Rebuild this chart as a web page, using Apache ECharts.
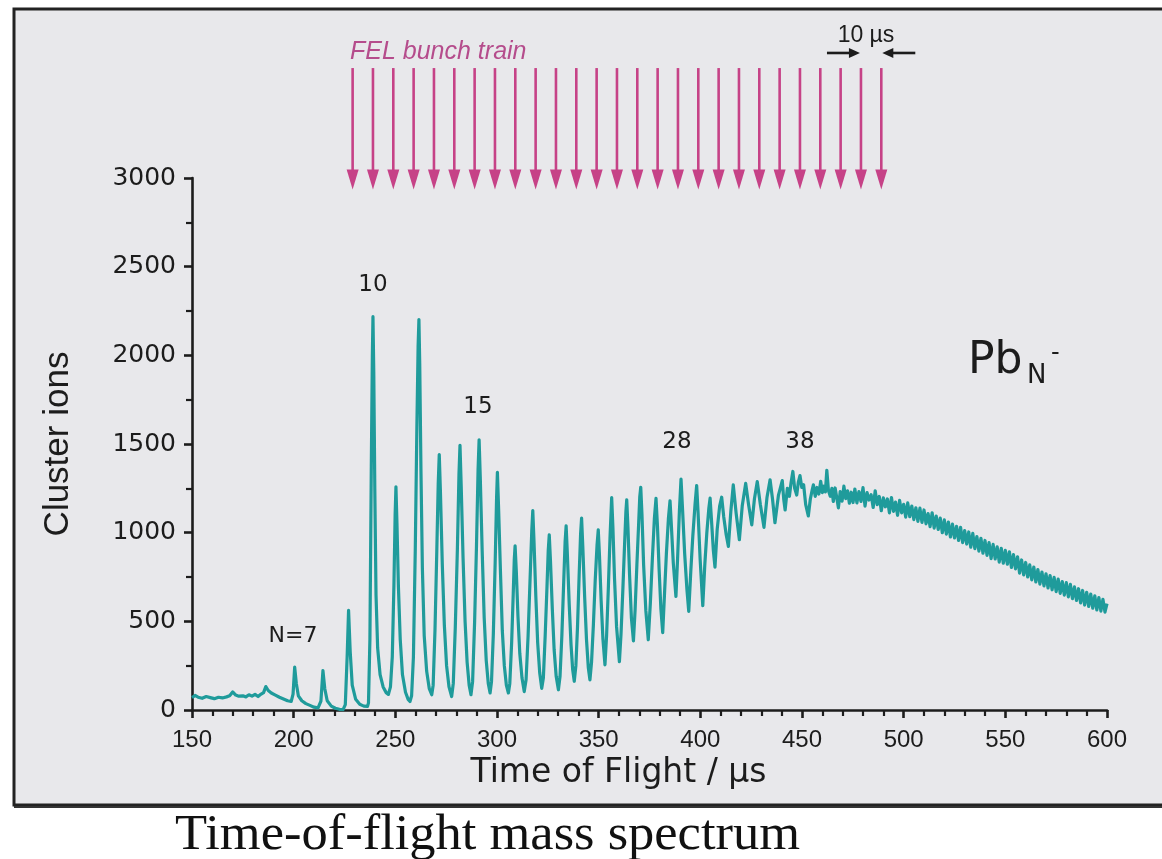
<!DOCTYPE html>
<html>
<head>
<meta charset="utf-8">
<script src="https://cdn.jsdelivr.net/npm/echarts@6/dist/echarts.min.js"></script>
<style>
html, body { margin: 0; padding: 0; background: #fff; }
#tofChart { width: 1162px; height: 859px; }
</style>
</head>
<body>
<div id="tofChart"></div>
<script>
// Pb_N^- time-of-flight spectrum ([tof in µs, counts])
var lowMassPeaks = [
  [150,70],[151.5,82],[153,72],[155,66],[157,76],[159,70],[161,64],[163,72],[165,68],[167,74],
  [168.5,80],[170,102],[171.5,84],[173,78],[175,80],[176.5,74],[178,86],[179.5,78],[181,88],
  [182.5,76],[184,90],[185.2,98],[186.3,132],[187.5,110],[189,96],[191,84],[193,72],[195,62],
  [197,52],[198.8,48],[199.7,90],[200.5,242],[201.3,150],[202.3,80],[204,52],[206,36],[208,26],
  [210,16],[212,12],[213.4,50],[214.4,222],[215.3,120],[216.5,52],[218.5,22],[220.5,10],
  [222.5,4],[224.3,2],[225.4,30],[226.3,300],[227,562],[227.8,330],[228.8,140],[230.5,60],
  [232.5,32],[234.5,22],[236.3,20]
];
var combPeaks = [
  [236.8,40],[237.5,400],[238.2,1400],[238.7,2000],[239,2218],[239.4,1900],[239.9,1250],[240.5,650],
  [241.3,350],[242.5,200],[244,130],[245.5,98],[246.6,88],
  [247.6,130],[248.5,300],[249.3,700],[249.9,1100],[250.3,1258],[250.8,1050],[251.5,700],[252.4,400],
  [253.5,200],[255,100],[256.3,60],[257.2,48],
  [258,80],[258.9,300],[259.8,900],[260.6,1600],[261.2,2050],[261.6,2202],[262,1950],[262.6,1350],
  [263.3,800],[264.2,420],[265.4,220],[266.7,120],[267.9,86],
  [268.6,140],[269.5,450],[270.4,900],[271.1,1280],[271.6,1440],[272.2,1220],[273.1,820],[274.1,480],
  [275.2,250],[276.4,130],[277.7,76],
  [278.5,150],[279.5,470],[280.5,900],[281.3,1330],[281.8,1492],[282.4,1260],[283.3,860],[284.3,500],
  [285.3,270],[286.3,140],[287.2,86],
  [288,160],[289,500],[289.9,920],[290.7,1360],[291.2,1524],[291.8,1300],[292.7,900],[293.7,520],
  [294.7,280],[295.7,150],[296.6,96],
  [297.3,160],[298.2,430],[299.1,830],[299.8,1200],[300.2,1340],[300.8,1130],[301.7,780],[302.6,450],
  [303.6,250],[304.6,140],[305.6,96],
  [306.3,150],[307.2,380],[308,660],[308.5,850],[308.9,926],[309.5,780],[310.3,530],[311.2,320],
  [312.3,180],[313.4,104],
  [314.3,170],[315.3,420],[316.3,750],[317.1,1010],[317.6,1124],[318.2,950],[319.1,640],[320,380],
  [321,210],[322,122],
  [322.8,180],[323.7,420],[324.6,700],[325.2,900],[325.7,988],[326.3,840],[327.2,570],[328.1,340],
  [329.1,190],[330.2,114],
  [331,190],[331.9,420],[332.8,720],[333.5,950],[334,1038],[334.6,880],[335.5,600],[336.4,370],
  [337.2,230],[338,162],
  [338.8,250],[339.6,470],[340.4,760],[341.1,990],[341.6,1082],[342.2,920],[343.1,640],[344,400],
  [344.9,240],[345.7,170],
  [346.5,270],[347.4,480],[348.3,730],[349.2,930],[349.8,1016],[350.4,870],[351.2,620],[352.1,400],
  [353.1,255],
  [353.9,420],[354.8,700],[355.6,980],[356.4,1198],[357,1030],[357.8,740],[358.8,470],[360.2,272],
  [361,430],[361.9,680],[362.8,950],[363.4,1120],[363.8,1185],[364.4,1030],[365.2,760],[366.1,520],
  [367.1,390],
  [367.9,560],[368.8,820],[369.7,1060],[370.2,1200],[370.7,1256],[371.3,1100],[372.1,820],[373.2,560],
  [374.4,396]
];
var plateau = [
  [375.4,600],[376.4,850],[377.4,1080],[378.2,1194],[378.9,1040],[379.7,800],[380.6,570],[381.5,436],
  [382.4,660],[383.3,880],[384.3,1080],[385.1,1180],[385.8,1030],[386.7,830],[388,640],
  [388.8,850],[389.7,1120],[390.5,1302],[391.3,1120],[392.3,880],[393.4,680],[394.3,556],
  [395.3,780],[396.3,980],[397.4,1160],[398.2,1266],[398.9,1110],[399.9,850],[401.2,588],
  [402.2,820],[403.2,1000],[404.2,1140],[404.8,1195],[405.6,1050],[406.4,900],[407.2,806],
  [408.3,1020],[409.5,1150],[410.5,1200],[411.5,1090],[412.7,990],[413.8,922],[415,1120],[416.2,1270],
  [417.6,1110],[419.2,960],[420.6,1150],[422.3,1278],[423.7,1160],[425.3,1044],[426.6,1190],[428,1288],
  [429.5,1160],[431.3,1030],[432.8,1200],[434.3,1298],[435.5,1190],[436.7,1056],[438.4,1210],
  [440.3,1294],[441,1190],[441.7,1128],[442.8,1250],[443.8,1205],[444.6,1280],[445.5,1345],
  [446.4,1250],[447.4,1212],[448.2,1285],[449,1322],[449.9,1255],[450.8,1270],[451.8,1160],
  [453.1,1094],[454.1,1190],[455,1240],[455.6,1270],[456.5,1205],[457.4,1255],[458.3,1218],
  [459.2,1290],[460,1226],[460.8,1262],[461.5,1230],[462.2,1352],[463,1238],[463.9,1205],
  [464.7,1250],[465.4,1176],[466.3,1252],[467.2,1190],[467.9,1140],[468.8,1232],[469.7,1178],
  [470.6,1262],[471.5,1192],[472.4,1236],[473.3,1166],[474.2,1228],[475.1,1170]
];
var tail = [
  [476,1246],[477,1168],[478,1232],[479,1176],[480,1254],[481,1150],[482,1226],[483,1184],[484,1214],
  [485,1142],[486,1236],[487,1158],[488,1204],[489,1124],[490,1196],[491,1146],[492,1190],[493,1112],
  [494,1198],[495,1120],[496,1172],[497,1098],[498,1182],[499,1112],[500,1160],[501,1088],[502,1168],
  [503,1090],[504,1150],[505,1074],[506,1140],[507,1064],[508,1138],[509,1058],[510,1128],[511,1050],
  [512,1108],[513,1034],[514,1112],[515,1026],[516,1094],[517,1018],[518,1082],[519,1000],[520,1072],
  [521,992],[522,1060],[523,976],[524,1048],[525,970],[526,1036],[527,956],[528,1030],[529,944],
  [530,1012],[531,936],[532,1004],[533,918],[534,996],[535,910],[536,978],[537,896],[538,968],[539,884],
  [540,956],[541,872],[542,944],[543,854],[544,934],[545,852],[546,920],[547,834],[548,912],[549,828],
  [550,900],[551,822],[552,892],[553,804],[554,876],[555,796],[556,864],[557,772],[558,846],[559,762],
  [560,832],[561,750],[562,818],[563,734],[564,806],[565,722],[566,792],[567,710],[568,778],[569,700],
  [570,768],[571,688],[572,758],[573,678],[574,748],[575,668],[576,738],[577,658],[578,724],[579,648],
  [580,718],[581,638],[582,708],[583,628],[584,694],[585,618],[586,684],[587,604],[588,674],[589,592],
  [590,664],[591,584],[592,654],[593,574],[594,644],[595,564],[596,634],[597,558],[598,624],[599,552],
  [600,600]
];
// FEL bunch arrival times, 10 µs apart
var bunchTimes = [229,239,249,259,269,279,289,299,309,319,329,339,349,359,369,379,389,399,409,419,429,439,449,459,469,479,489];
var xTicks = [150, 600, 50];
var yTicks = [0, 3000, 500];

var arrowColor = '#c64287';
var lineColor = '#1f9b9b';
var inkColor = '#1c1c1c';

var chart = echarts.init(document.getElementById('tofChart'));

function renderBunch(params, api) {
  var t = api.value(0);
  var top = api.coord([t, 3620]);
  var tip = api.coord([t, 2935]);
  var headLen = 20, headHalf = 6;
  return {
    type: 'group',
    children: [
      { type: 'line', shape: { x1: top[0], y1: top[1], x2: tip[0], y2: tip[1] - headLen + 2 },
        style: { stroke: arrowColor, lineWidth: 2.6 } },
      { type: 'polygon', shape: { points: [[tip[0] - headHalf, tip[1] - headLen], [tip[0] + headHalf, tip[1] - headLen], [tip[0], tip[1]]] },
        style: { fill: arrowColor } }
    ]
  };
}

// the two black arrows marking the 10 µs spacing
function renderSpacing(params, api) {
  var a = api.coord([api.value(0), 3705]);
  var b = api.coord([api.value(1), 3705]);
  var y = a[1];
  return {
    type: 'group',
    children: [
      { type: 'line', shape: { x1: a[0] - 34, y1: y, x2: a[0] - 9, y2: y }, style: { stroke: inkColor, lineWidth: 2.6 } },
      { type: 'polygon', shape: { points: [[a[0] - 12, y - 5], [a[0] - 12, y + 5], [a[0] - 1, y]] }, style: { fill: inkColor } },
      { type: 'line', shape: { x1: b[0] + 34, y1: y, x2: b[0] + 9, y2: y }, style: { stroke: inkColor, lineWidth: 2.6 } },
      { type: 'polygon', shape: { points: [[b[0] + 12, y - 5], [b[0] + 12, y + 5], [b[0] + 1, y]] }, style: { fill: inkColor } }
    ]
  };
}

function txt(text, x, y, size, family, opts) {
  opts = opts || {};
  var el = {
    type: 'text', x: x, y: y, z: 50,
    style: {
      text: text, fill: opts.fill || inkColor,
      font: (opts.italic ? 'italic ' : '') + size + 'px ' + family,
      textAlign: opts.align || 'center', textVerticalAlign: 'middle',
      align: opts.align || 'center', verticalAlign: 'middle'
    }
  };
  if (opts.scaleX) { el.scaleX = opts.scaleX; }
  return el;
}

var option = {
  backgroundColor: '#ffffff',
  animation: false,
  grid: { left: 192, right: 55, top: 178, bottom: 149 },
  xAxis: {
    type: 'value', min: xTicks[0], max: xTicks[1], interval: xTicks[2],
    name: 'Time of Flight / µs', nameLocation: 'middle', nameGap: 47,
    nameTextStyle: { color: inkColor, fontSize: 33, fontFamily: '"DejaVu Sans", sans-serif', padding: [0, 62, 0, 0] },
    axisLine: { lineStyle: { color: inkColor, width: 2.6 } },
    axisTick: { length: 8, lineStyle: { color: inkColor, width: 2.6 } },
    minorTick: { show: true, splitNumber: 5, length: 6, lineStyle: { color: inkColor, width: 2.2 } },
    axisLabel: { margin: 18, color: inkColor, fontSize: 24, fontFamily: '"Liberation Sans", sans-serif' },
    splitLine: { show: false }
  },
  yAxis: {
    type: 'value', min: yTicks[0], max: yTicks[1], interval: yTicks[2],
    name: 'Cluster ions', nameLocation: 'middle', nameGap: 116, nameRotate: 90,
    nameTextStyle: { color: inkColor, fontSize: 35, fontFamily: '"Liberation Sans", sans-serif' },
    axisLine: { show: true, lineStyle: { color: inkColor, width: 2.6 } },
    axisTick: { show: true, length: 8, lineStyle: { color: inkColor, width: 2.6 } },
    minorTick: { show: true, splitNumber: 2, length: 6, lineStyle: { color: inkColor, width: 2.2 } },
    axisLabel: {
      margin: 16, color: inkColor, fontSize: 25, fontFamily: '"DejaVu Sans", sans-serif',
      formatter: function (v) { return String(v); }
    },
    splitLine: { show: false }
  },
  graphic: [
    { type: 'rect', z: -10, shape: { x: 14, y: 9, width: 1200, height: 796 },
      style: { fill: '#e8e8eb', stroke: '#222222', lineWidth: 3 } },
    { type: 'line', z: -9, shape: { x1: 14, y1: 807, x2: 1162, y2: 807 }, style: { stroke: '#333', lineWidth: 2 } },
    txt('FEL bunch train', 350, 52, 25, '"Liberation Sans", sans-serif', { align: 'left', italic: true, fill: '#b54c8c' }),
    txt('10 µs', 866, 36, 23, '"Liberation Sans", sans-serif'),
    txt('N=7', 293, 636, 22, '"DejaVu Sans", sans-serif'),
    txt('10', 373, 285, 23, '"DejaVu Sans", sans-serif'),
    txt('15', 478, 407, 23, '"DejaVu Sans", sans-serif'),
    txt('28', 677, 442, 23, '"DejaVu Sans", sans-serif'),
    txt('38', 800, 442, 23, '"DejaVu Sans", sans-serif'),
    txt('Pb', 968, 362, 44, '"DejaVu Sans", sans-serif', { align: 'left' }),
    txt('N', 1027, 376, 26, '"DejaVu Sans", sans-serif', { align: 'left' }),
    txt('-', 1051, 354, 24, '"DejaVu Sans", sans-serif', { align: 'left' }),
    txt('Time-of-flight mass spectrum', 175, 836, 50, '"Liberation Serif", serif', { align: 'left', fill: '#111', scaleX: 1.05 })
  ],
  series: [
    {
      type: 'line', name: 'Pb_N-', showSymbol: false, z: 3,
      data: lowMassPeaks.concat(combPeaks, plateau, tail),
      lineStyle: { color: lineColor, width: 3.2, join: 'round' }
    },
    {
      type: 'custom', name: 'FEL bunch train', clip: false, z: 4,
      renderItem: renderBunch,
      encode: { x: 0, y: 1 },
      data: bunchTimes.map(function (t) { return [t, 0]; })
    },
    {
      type: 'custom', name: '10 µs', clip: false, z: 4,
      renderItem: renderSpacing,
      encode: { x: [0, 1], y: 2 },
      data: [[bunchTimes[bunchTimes.length - 2], bunchTimes[bunchTimes.length - 1], 0]]
    }
  ]
};

chart.setOption(option);
</script>
</body>
</html>
